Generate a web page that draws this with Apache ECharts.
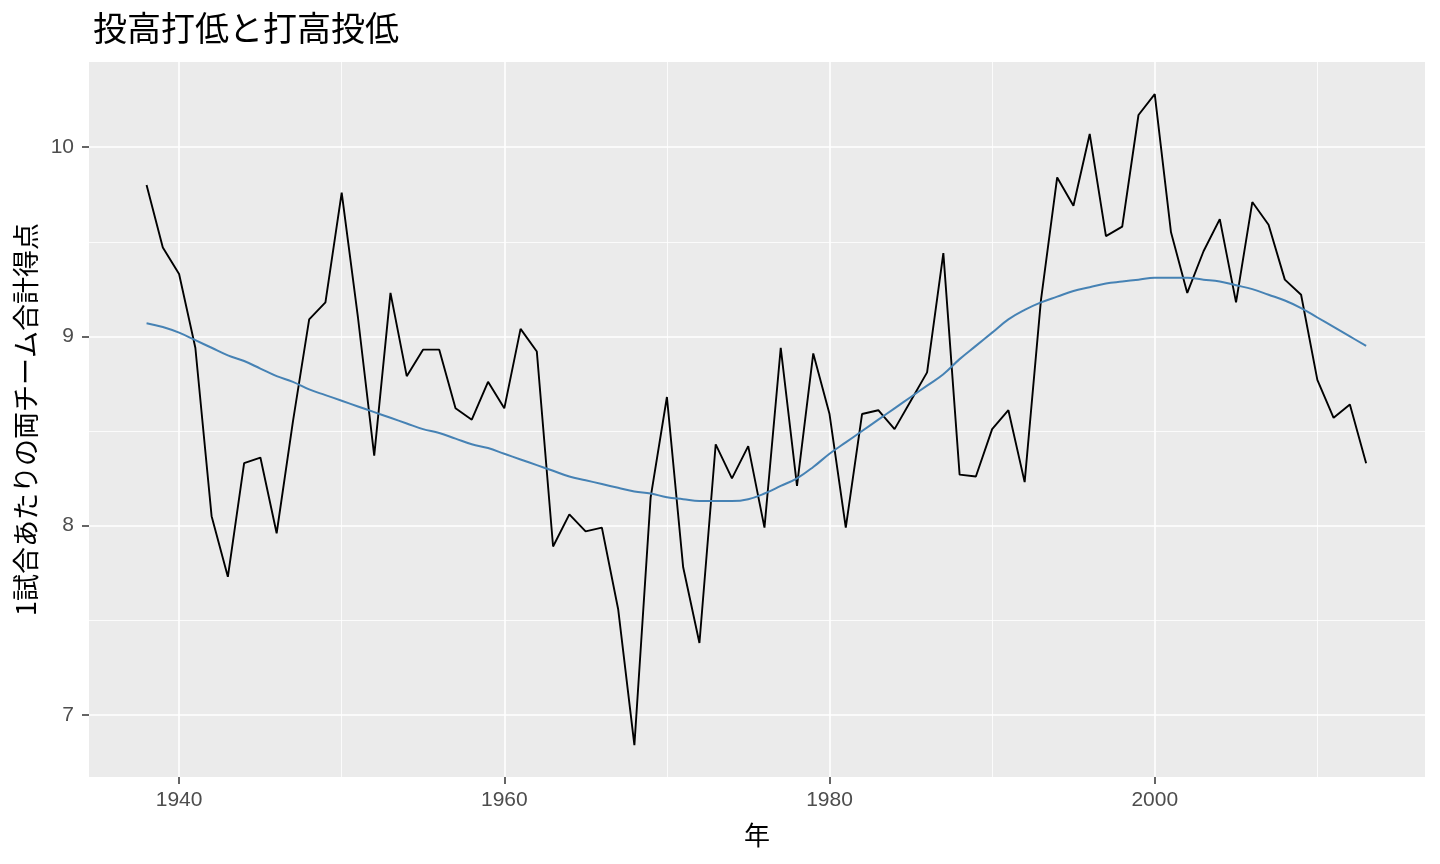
<!DOCTYPE html>
<html>
<head>
<meta charset="utf-8">
<title>投高打低と打高投低</title>
<script src="https://cdn.jsdelivr.net/npm/echarts@6/dist/echarts.min.js"></script>
<style>
  html, body { margin: 0; padding: 0; background: #fff; }
  #main { width: 1440px; height: 864px; }
</style>
</head>
<body>
<div id="main"></div>
<script>
// 年
const years = [
  1938, 1939, 1940, 1941, 1942, 1943, 1944, 1945, 1946, 1947,
  1948, 1949, 1950, 1951, 1952, 1953, 1954, 1955, 1956, 1957,
  1958, 1959, 1960, 1961, 1962, 1963, 1964, 1965, 1966, 1967,
  1968, 1969, 1970, 1971, 1972, 1973, 1974, 1975, 1976, 1977,
  1978, 1979, 1980, 1981, 1982, 1983, 1984, 1985, 1986, 1987,
  1988, 1989, 1990, 1991, 1992, 1993, 1994, 1995, 1996, 1997,
  1998, 1999, 2000, 2001, 2002, 2003, 2004, 2005, 2006, 2007,
  2008, 2009, 2010, 2011, 2012, 2013
];
// 1試合あたりの両チーム合計得点
const runs = [
  9.80, 9.47, 9.33, 8.94, 8.05, 7.73, 8.33, 8.36, 7.96, 8.55,
  9.09, 9.18, 9.76, 9.10, 8.37, 9.23, 8.79, 8.93, 8.93, 8.62,
  8.56, 8.76, 8.62, 9.04, 8.92, 7.89, 8.06, 7.97, 7.99, 7.56,
  6.84, 8.15, 8.68, 7.78, 7.38, 8.43, 8.25, 8.42, 7.99, 8.94,
  8.21, 8.91, 8.59, 7.99, 8.59, 8.61, 8.51, 8.66, 8.81, 9.44,
  8.27, 8.26, 8.51, 8.61, 8.23, 9.19, 9.84, 9.69, 10.07, 9.53,
  9.58, 10.17, 10.28, 9.55, 9.23, 9.45, 9.62, 9.18, 9.71, 9.59,
  9.30, 9.22, 8.77, 8.57, 8.64, 8.33
];
// 平滑化曲線 (loess)
const smooth = [
  9.07, 9.05, 9.02, 8.98, 8.94, 8.90, 8.87, 8.83, 8.79, 8.76,
  8.72, 8.69, 8.66, 8.63, 8.60, 8.57, 8.54, 8.51, 8.49, 8.46,
  8.43, 8.41, 8.38, 8.35, 8.32, 8.29, 8.26, 8.24, 8.22, 8.20,
  8.18, 8.17, 8.15, 8.14, 8.13, 8.13, 8.13, 8.14, 8.17, 8.21,
  8.25, 8.31, 8.38, 8.44, 8.50, 8.56, 8.62, 8.68, 8.74, 8.80,
  8.88, 8.95, 9.02, 9.09, 9.14, 9.18, 9.21, 9.24, 9.26, 9.28,
  9.29, 9.30, 9.31, 9.31, 9.31, 9.30, 9.29, 9.27, 9.25, 9.22,
  9.19, 9.15, 9.10, 9.05, 9.00, 8.95
];
// 目盛り
const xMajor = [1940, 1960, 1980, 2000];
const xMinor = [1950, 1970, 1990, 2010];
const yMajor = [7, 8, 9, 10];
const yMinor = [7.5, 8.5, 9.5];

let myChart = echarts.init(document.getElementById('main'));

const lineData = years.map((y, i) => [y, runs[i]]);
const smoothData = years.map((y, i) => [y, smooth[i]]);

// パネルの格子線 (ggplot風)
const gridLines = [];
xMinor.forEach(v => gridLines.push({ xAxis: v, lineStyle: { width: 0.8 } }));
yMinor.forEach(v => gridLines.push({ yAxis: v, lineStyle: { width: 0.8 } }));
xMajor.forEach(v => gridLines.push({ xAxis: v, lineStyle: { width: 1.6 } }));
yMajor.forEach(v => gridLines.push({ yAxis: v, lineStyle: { width: 1.6 } }));

let option = {
  animation: false,
  textStyle: { fontFamily: 'Liberation Sans, Arial, sans-serif' },
  title: {
    text: '投高打低と打高投低',
    left: 88,
    top: 6,
    textStyle: {
      fontFamily: 'Noto Sans CJK JP',
      fontSize: 34,
      fontWeight: 'normal',
      color: '#000'
    }
  },
  grid: {
    left: 89,
    right: 15,
    top: 62,
    bottom: 87,
    show: true,
    backgroundColor: '#EBEBEB',
    borderWidth: 0
  },
  xAxis: {
    type: 'value',
    min: 1934.46,
    max: 2016.62,
    name: '年',
    nameLocation: 'middle',
    nameGap: 45,
    nameTextStyle: { fontFamily: 'Noto Sans CJK JP', fontSize: 26, color: '#000' },
    axisLine: { show: false },
    axisTick: {
      show: true,
      length: 7,
      customValues: xMajor,
      lineStyle: { color: '#333', width: 1.5 }
    },
    axisLabel: {
      customValues: xMajor,
      formatter: v => String(v),
      margin: 13,
      fontSize: 21,
      color: '#4D4D4D'
    },
    splitLine: { show: false }
  },
  yAxis: {
    type: 'value',
    min: 6.672,
    max: 10.45,
    name: '1試合あたりの両チーム合計得点',
    nameLocation: 'middle',
    nameGap: 50,
    nameTextStyle: { fontFamily: 'Noto Sans CJK JP', fontSize: 27, color: '#000' },
    axisLine: { show: false },
    axisTick: {
      show: true,
      length: 7,
      customValues: yMajor,
      lineStyle: { color: '#333', width: 1.5 }
    },
    axisLabel: {
      customValues: yMajor,
      formatter: v => String(v),
      margin: 15,
      fontSize: 21,
      color: '#4D4D4D'
    },
    splitLine: { show: false }
  },
  series: [
    {
      name: 'grid',
      type: 'line',
      data: [],
      z: 1,
      silent: true,
      markLine: {
        z: 1,
        silent: true,
        symbol: ['none', 'none'],
        label: { show: false },
        emphasis: { disabled: true },
        lineStyle: { color: '#FFFFFF', type: 'solid' },
        data: gridLines
      }
    },
    {
      name: '得点',
      type: 'line',
      data: lineData,
      z: 3,
      showSymbol: false,
      color: '#000',
      lineStyle: { color: '#000', width: 1.9 }
    },
    {
      name: '平滑化',
      type: 'line',
      data: smoothData,
      z: 4,
      smooth: 0.4,
      showSymbol: false,
      color: '#4682B4',
      lineStyle: { color: '#4682B4', width: 2 }
    }
  ]
};

myChart.setOption(option);

window.onresize = function () {
  myChart.resize();
};
</script>
</body>
</html>
